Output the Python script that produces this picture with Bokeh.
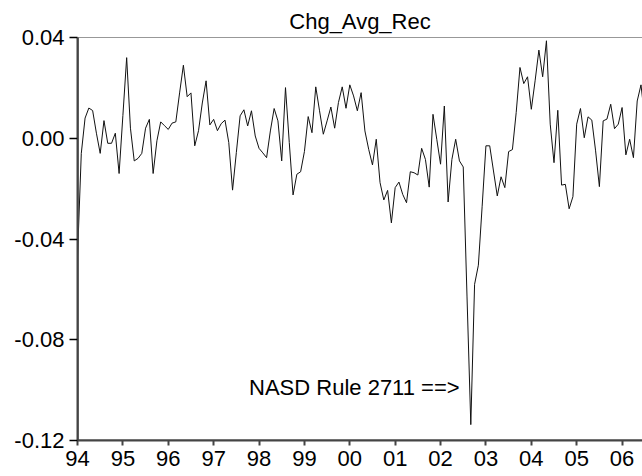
from bokeh.plotting import figure
from bokeh.models import Range1d, FixedTicker, Label, Span
from bokeh.embed import file_html
from bokeh.resources import INLINE

# ---- data (monthly, starting January 1994) ----
start_year = 1994
values = [
    -0.047, -0.006, 0.008, 0.012, 0.011, 0.002, -0.006, 0.007, -0.002, -0.002, 0.002, -0.014,
    0.009, 0.032, 0.004, -0.009, -0.008, -0.006, 0.004, 0.0075, -0.014, -0.001, 0.0065, 0.005,
    0.0035, 0.006, 0.0065, 0.018, 0.029, 0.0165, 0.018, -0.003, 0.003, 0.014, 0.0228, 0.0053,
    0.0075, 0.003, 0.0058, 0.0072, -0.0017, -0.0206, -0.0057, 0.0089, 0.0113, 0.0049, 0.0109, 0.0009,
    -0.004, -0.0058, -0.0077, 0.0029, 0.0118, 0.0069, -0.009, 0.0201, -0.0017, -0.0225, -0.0143, -0.0133,
    -0.0053, 0.0086, 0.0022, 0.0204, 0.0109, 0.0016, 0.0069, 0.0124, 0.004, 0.0142, 0.0204, 0.0119,
    0.0212, 0.0168, 0.0109, 0.0181, 0.0029, -0.0044, -0.0106, -0.0004, -0.0176, -0.0245, -0.0207, -0.0336,
    -0.0196, -0.0174, -0.0223, -0.0256, -0.0133, -0.0137, -0.0146, -0.004, -0.0084, -0.0194, 0.0095, -0.0004,
    -0.0103, 0.0128, -0.0253, -0.0084, -0.0004, -0.009, -0.0114, -0.063, -0.1137, -0.058, -0.0504, -0.027,
    -0.003, -0.003, -0.013, -0.0229, -0.0153, -0.0196, -0.0053, -0.0045, 0.0102, 0.0281, 0.0217, 0.0244,
    0.0115, 0.0228, 0.035, 0.0244, 0.0387, 0.0056, -0.0097, 0.0111, -0.0186, -0.0183, -0.028, -0.0232,
    0.0056, 0.0118, 0.0002, 0.0085, 0.0072, -0.005, -0.0192, 0.0069, 0.0076, 0.0135, 0.0038, 0.0056,
    0.0122, -0.0066, -0.0004, -0.0077, 0.0148, 0.0212, 0.008,
]
x_tick_years = [1994, 1995, 1996, 1997, 1998, 1999, 2000, 2001, 2002, 2003, 2004, 2005, 2006]
x_tick_labels = ["94", "95", "96", "97", "98", "99", "00", "01", "02", "03", "04", "05", "06"]
y_ticks = [-0.12, -0.08, -0.04, 0.0, 0.04]
y_tick_labels = ["-0.12", "-0.08", "-0.04", "0.00", "0.04"]
title_text = "Chg_Avg_Rec"
note_text = "NASD Rule 2711 ==>"
note_x = 2002.42
note_y = -0.099

x_end = 2006.45
y_min, y_max = -0.12, 0.04

xs = [start_year + i / 12.0 for i in range(len(values))]

FONT = "Liberation Sans"
FS = "22px"

p = figure(width=642, height=476, output_backend="svg", toolbar_location=None,
           x_range=Range1d(start_year, x_end), y_range=Range1d(y_min, y_max),
           min_border_left=77, min_border_right=0, min_border_top=37, min_border_bottom=36,
           title=title_text)

p.title.text_font = FONT
p.title.text_font_size = FS
p.title.text_font_style = "normal"
p.title.align = "center"
p.title.text_color = "black"
p.title.standoff = 8

p.outline_line_color = None
p.xgrid.visible = False
p.ygrid.visible = False

p.line(xs, values, line_color="#111111", line_width=1)

# frame lines (top, left, bottom)
p.add_layout(Span(location=y_max, dimension="width", line_color="#333333", line_width=1.2))
p.add_layout(Span(location=y_min, dimension="width", line_color="#444444", line_width=2))
p.add_layout(Span(location=start_year, dimension="height", line_color="#444444", line_width=2.5))

p.add_layout(Label(x=note_x, y=note_y, text=note_text, text_align="right",
                   text_baseline="middle", text_font=FONT, text_font_size=FS,
                   text_color="black"))

xa = p.xaxis[0]
xa.ticker = FixedTicker(ticks=x_tick_years)
xa.major_label_overrides = {t: l for t, l in zip(x_tick_years, x_tick_labels)}
xa.major_label_text_font = FONT
xa.major_label_text_font_size = FS
xa.major_label_text_color = "black"
xa.major_tick_out = 5
xa.major_tick_in = 0
xa.axis_line_color = "#444444"
xa.axis_line_width = 2
xa.major_tick_line_color = "#444444"
xa.major_tick_line_width = 2
xa.major_label_standoff = 5

ya = p.yaxis[0]
ya.ticker = FixedTicker(ticks=y_ticks)
ya.major_label_overrides = {t: l for t, l in zip(y_ticks, y_tick_labels)}
ya.major_label_text_font = FONT
ya.major_label_text_font_size = FS
ya.major_label_text_color = "black"
ya.major_tick_out = 8
ya.major_tick_in = 0
ya.minor_tick_out = 0
ya.minor_tick_in = 0
ya.axis_line_color = "#444444"
ya.axis_line_width = 2
ya.major_tick_line_color = "black"
ya.major_tick_line_width = 1.5
ya.major_label_standoff = 5

open("out.html", "w").write(file_html(p, INLINE))
